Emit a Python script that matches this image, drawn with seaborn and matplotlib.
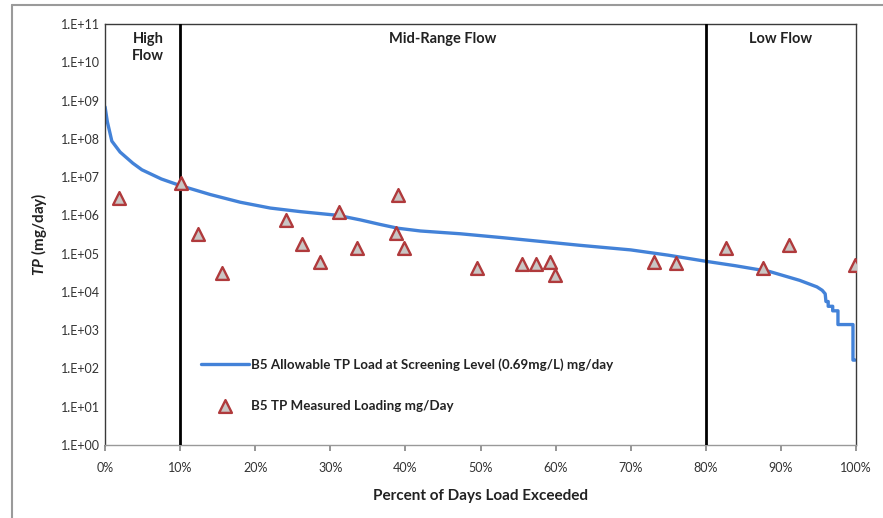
import numpy as np
import pandas as pd
import matplotlib
matplotlib.use("Agg")
import matplotlib.pyplot as plt
import seaborn as sns
from matplotlib.lines import Line2D
from matplotlib.ticker import FixedLocator, FuncFormatter

# ---- data ----
curve_pct = [0, 0.3, 0.9, 2, 3.7, 4.9, 7.5, 10, 14, 18, 22, 26, 31, 34, 36.6, 39, 42, 47.3,
             53, 58.9, 63.2, 70, 75, 80, 84, 88.5, 92.5, 94.8, 95.5, 95.9, 96.0,
             96.3, 96.3, 96.9, 96.9, 97.6, 97.6, 99.6, 99.6, 99.9]
curve_load = [6.8e8, 2.8e8, 8.7e7, 4.5e7, 2.3e7, 1.55e7, 8.9e6, 6.0e6, 3.5e6, 2.2e6,
              1.55e6, 1.25e6, 1.0e6, 7.6e5, 5.8e5, 4.6e5, 3.9e5, 3.3e5, 2.6e5, 2.0e5, 1.65e5,
              1.25e5, 9.1e4, 6.3e4, 4.8e4, 3.4e4, 2.0e4, 1.35e4, 1.1e4, 8.9e3,
              5.6e3, 5.6e3, 4.2e3, 4.2e3, 3.2e3, 3.2e3, 1.4e3, 1.4e3, 165, 165]

meas_pct = [1.9, 10.1, 12.4, 15.6, 24.1, 26.2, 28.6, 31.2, 33.6, 39.0, 38.7, 39.8,
            49.5, 55.5, 57.4, 59.3, 59.9, 73.1, 76.0, 82.7, 87.6, 91.1, 99.9]
meas_load = [2.8e6, 7.0e6, 3.3e5, 3.1e4, 7.6e5, 1.8e5, 6.0e4, 1.2e6, 1.4e5, 3.4e6,
             3.5e5, 1.4e5, 4.2e4, 5.4e4, 5.4e4, 6.0e4, 2.8e4, 6.0e4, 5.7e4, 1.4e5,
             4.2e4, 1.7e5, 5.0e4]

line_label = "B5 Allowable TP Load at Screening Level (0.69mg/L) mg/day"
marker_label = "B5 TP Measured Loading mg/Day"
zone_bounds = [10, 80]
zone_labels = ["High\nFlow", "Mid-Range Flow", "Low Flow"]
zone_label_x = [5.7, 45, 90]
x_ticks = list(range(0, 101, 10))
y_ticks = [10.0 ** k for k in range(0, 12)]

curve_df = pd.DataFrame({"pct": curve_pct, "load": curve_load})
meas_df = pd.DataFrame({"pct": meas_pct, "load": meas_load})

sns.set_theme(style="white")
plt.rcParams["font.family"] = ["Lato", "DejaVu Sans"]
plt.rcParams["mathtext.fontset"] = "custom"
plt.rcParams["mathtext.bf"] = "Lato:bold"
plt.rcParams["mathtext.bfit"] = "Lato:italic:bold"
plt.rcParams["mathtext.it"] = "Lato:italic"

fig = plt.figure(figsize=(8.83, 5.18), dpi=100)
ax = fig.add_axes([0.119, 0.141, 0.8504, 0.8127])

sns.lineplot(data=curve_df, x="pct", y="load", ax=ax, sort=False, estimator=None,
             color="#4382d8", lw=2.4, label=line_label)
sns.scatterplot(data=meas_df, x="pct", y="load", ax=ax, marker="^", s=85,
                color="#c9c6c4", edgecolor="#b03a3c", linewidth=1.7,
                label=marker_label, zorder=5)

ax.set_yscale("log")
ax.set_ylim(1, 1e11)
ax.set_xlim(0, 100)
ax.yaxis.set_major_locator(FixedLocator(y_ticks))
ax.yaxis.set_minor_locator(FixedLocator([]))
ax.yaxis.set_major_formatter(FuncFormatter(lambda v, p: "1.E+%02d" % int(round(np.log10(v)))))
ax.set_xticks(x_ticks)
ax.xaxis.set_major_formatter(FuncFormatter(lambda v, p: "%d%%" % v))
ax.tick_params(axis="both", labelsize=9, colors="#333333", length=0)
ax.tick_params(axis="x", length=4, direction="out", bottom=True, color="#888888", pad=8)

for b in zone_bounds:
    ax.axvline(b, color="black", lw=2, zorder=3)

for s in ax.spines.values():
    s.set_color("#3a3a3a")
    s.set_linewidth(1.0)
ax.spines["bottom"].set_color("#999999")

for lbl, xx in zip(zone_labels, zone_label_x):
    ax.text(xx, 1e11 * 0.62, lbl, ha="center", va="top", fontsize=10.5,
            fontweight="bold", color="#222222", linespacing=1.3)

ax.set_xlabel("Percent of Days Load Exceeded", fontsize=11, fontweight="bold",
              color="#222222", labelpad=11)
ax.set_ylabel(r"$\mathbfit{TP}$ $\mathbf{(mg/day)}$", fontsize=11, color="#222222",
              labelpad=9)

leg = ax.legend(loc="upper left", bbox_to_anchor=(0.128, 0.207), frameon=False,
                fontsize=9.6, labelspacing=2.2, handlelength=3.6, handletextpad=0.15,
                borderaxespad=0, borderpad=0)
for t in leg.get_texts():
    t.set_fontweight("bold")
    t.set_color("#222222")

# outer chart border (left and top edges visible)
fig.add_artist(Line2D([12 / 883, 12 / 883], [0, 1 - 5 / 518], transform=fig.transFigure,
                      color="#9a9a9a", lw=1.5))
fig.add_artist(Line2D([12 / 883, 1], [1 - 5 / 518, 1 - 5 / 518], transform=fig.transFigure,
                      color="#9a9a9a", lw=1.5))

fig.savefig("out.png", dpi=100)
